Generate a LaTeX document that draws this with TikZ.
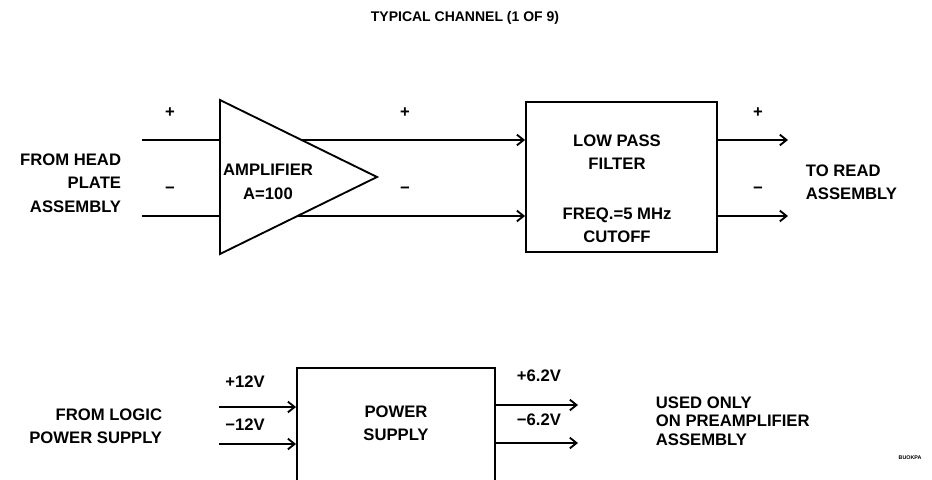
\documentclass[tikz,border=0pt]{standalone}
\usepackage{fontspec}
\setmainfont{Liberation Sans}
\usepackage{tikz}
\usetikzlibrary{arrows,arrows.meta,calc}

\begin{document}
\begin{tikzpicture}[x=0.75pt,y=-0.75pt,line width=1.4pt,>={Straight Barb[length=5pt,width=8pt]},
  txt/.style={inner sep=0pt,font=\fontsize{12.5}{17.6}\selectfont\bfseries},
  block/.style={draw,inner sep=0pt}]

\useasboundingbox (0,0) rectangle (932,479);
\clip (0,0) rectangle (932,479);

\node[font=\fontsize{10.5}{12}\selectfont\bfseries](T1) at (465,18) {TYPICAL CHANNEL (1 OF 9)};

% amplifier
\coordinate (ampT) at (220,100);
\coordinate (ampB) at (220,254);
\coordinate (ampR) at (377,177);
\draw (ampT) -- (ampR) -- (ampB) -- cycle;
\node[txt,align=center](A1) at (268,182) {AMPLIFIER\\A=100};

% filter
\node[block,minimum width=143.25pt,minimum height=112.5pt](F1) at (621.5,177) {};
\node[txt,align=center](F2) at (617,152) {LOW PASS\\FILTER};
\node[txt,align=center](F3) at (617,225) {FREQ.=5 MHz\\CUTOFF};

\coordinate (hp1) at (142,140);
\coordinate (hp2) at (142,216);
\coordinate (rd1) at (788,140);
\coordinate (rd2) at (788,216);

\node[txt,anchor=east,align=right](S1) at (122,183) {FROM HEAD\\PLATE\\ASSEMBLY};
\node[txt,anchor=west,align=left](D1) at (805,182) {TO READ\\ASSEMBLY};
\node[txt](P1) at (170,113) {+};
\node[txt](M1) at (170,190) {−};
\node[txt](P2) at (405,113) {+};
\node[txt](M2) at (405,190) {−};
\node[txt](P3) at (758,113) {+};
\node[txt](M3) at (758,190) {−};

\path
(hp1) edge (hp1 -| ampT)
(hp2) edge (hp2 -| ampB)
($(ampT)!40/77!(ampR)$) edge[->] (F1.west |- hp1)
($(ampB)!38/77!(ampR)$) edge[->] (F1.west |- hp2)
(F1.east |- hp1) edge[->] (rd1)
(F1.east |- hp2) edge[->] (rd2);

% power supply
\node[block,minimum width=148.5pt,minimum height=99pt](PS) at (396,434) {};
\node[txt,align=center](PS2) at (396,423) {POWER\\SUPPLY};

\coordinate (lp1) at (219,407);
\coordinate (lp2) at (219,444);
\coordinate (pa1) at (578,405);
\coordinate (pa2) at (578,443);

\node[txt,anchor=east,align=right](S2) at (163,426) {FROM LOGIC\\POWER SUPPLY};
\node[txt](V1) at (245,382) {+12V};
\node[txt](V2) at (245,425) {−12V};
\node[txt](V3) at (539,376) {+6.2V};
\node[txt](V4) at (539,420) {−6.2V};
\node[txt,anchor=west,align=left,font=\fontsize{12.5}{14}\selectfont\bfseries](U1) at (655,421) {USED ONLY\\ON PREAMPLIFIER\\ASSEMBLY};
\node[font=\fontsize{4}{5}\selectfont\bfseries](B1) at (910,458) {BUOKPA};

\path
(lp1) edge[->] (PS.west |- lp1)
(lp2) edge[->] (PS.west |- lp2)
(PS.east |- pa1) edge[->] (pa1)
(PS.east |- pa2) edge[->] (pa2);

\end{tikzpicture}
\end{document}
